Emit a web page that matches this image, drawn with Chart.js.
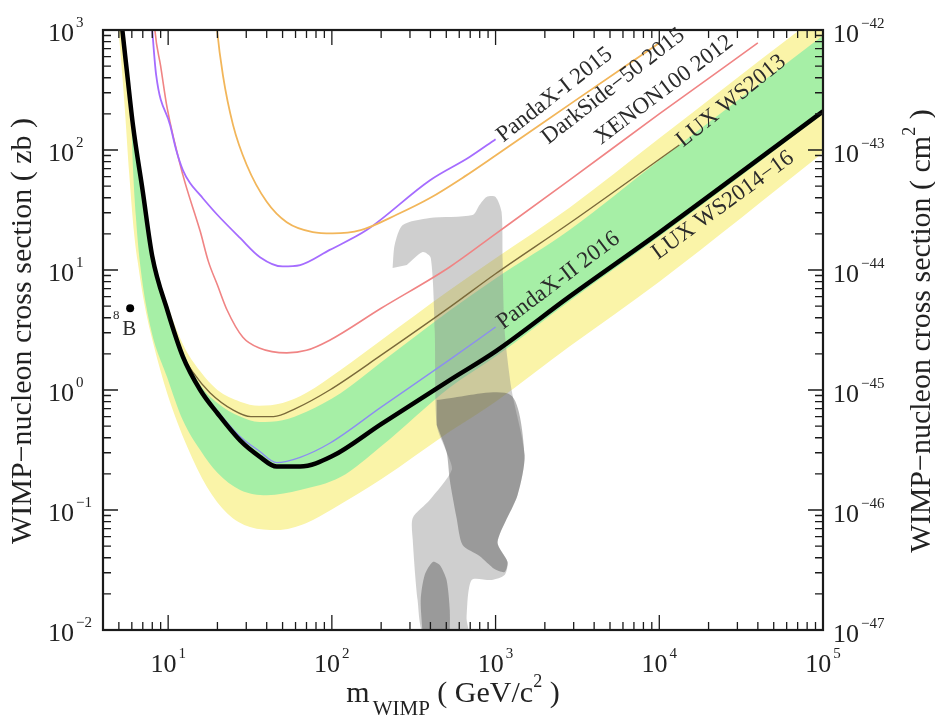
<!DOCTYPE html>
<html>
<head>
<meta charset="utf-8">
<title>WIMP-nucleon cross section limits</title>
<script src="https://cdn.jsdelivr.net/npm/chart.js@4.4.1/dist/chart.umd.min.js"></script>
<style>
  html, body { margin: 0; padding: 0; background: #fff; }
  #wrap { width: 935px; height: 724px; }
</style>
</head>
<body>
<div id="wrap"><canvas id="limitChart" width="935" height="724"></canvas></div>
<script>
// tick values (mass in GeV/c^2, cross section in zb and cm^2)
const massTicks = [10, 100, 1000, 10000, 100000];
const zbTicks   = [0.01, 0.1, 1, 10, 100, 1000];
const cm2Ticks  = [1e-47, 1e-46, 1e-45, 1e-44, 1e-43, 1e-42];

// [mass, sigma(zb)]
const luxWS2016 = [[5.15,1300],[5.25,1000],[5.6,450],[6.1,160],[7.0,45],[8.0,13],[9.9,4.6],[12.3,1.9],[15.7,1.0],[20,0.64],[27.5,0.38],[36,0.28],[46,0.23],[64,0.23],[100,0.28],[200,0.52],[525,1.21],[1000,2.1],[2826,6.0],[10000,20.5],[100000,210]];
const luxWS2013 = [[9.9,4.6],[12.3,1.95],[14.2,1.4],[18,0.95],[25,0.68],[32,0.6],[44,0.6],[60,0.7],[97,1.0],[200,1.95],[525,4.9],[1000,9.3],[2826,24.5],[13250,110]];
const pandaX2   = [[12.3,1.95],[15.7,1.03],[20,0.67],[27.5,0.41],[36,0.31],[46,0.248],[64,0.275],[97,0.36],[200,0.72],[525,1.79],[1000,3.35]];
const pandaX1   = [[7.9,1300],[8.0,1000],[8.45,420],[10.3,160],[11.2,100],[12.3,68],[13.6,53],[15.7,42],[19.9,29],[27.5,18.5],[36.4,12.8],[50,10.7],[64,11],[97,14.7],[163,21.5],[398,56],[690,87],[1000,123]];
const xenon100  = [[8.2,1300],[8.3,1000],[9.0,500],[9.86,224],[12.3,62],[15.7,21],[17.6,11.8],[20,7.5],[22.9,4.64],[28.6,2.75],[36,2.24],[53,2.04],[70,2.14],[97,2.6],[200,4.8],[525,10.6],[1000,20],[2826,56],[10000,200],[40000,780]];
const darkSide  = [[19.6,1300],[19.9,1000],[21.6,420],[24.9,162],[30.2,75],[40,37],[53,25],[76.5,20.7],[101,20.2],[150,21.5],[250,29],[400,40],[645,60],[1000,90],[3000,253],[10000,780]];

// sensitivity bands
const yellowUpper = [[4.85,3000],[5.4,1000],[6.2,160],[7.1,45],[8.2,13],[10,5.0],[12.3,2.4],[15.7,1.43],[20,1.0],[27.5,0.8],[36,0.74],[50,0.78],[70,0.95],[113,1.47],[200,2.6],[525,6.8],[1000,12.5],[2826,33],[10000,125],[68000,944],[100000,1400]];
const yellowLower = [[4.85,1300],[4.97,1000],[5.4,250],[5.8,60],[6.2,20],[6.5,12],[7.2,5],[8.1,2.46],[9.86,0.94],[13.1,0.335],[17.3,0.155],[22.9,0.094],[31.6,0.072],[46,0.068],[70,0.078],[101,0.102],[200,0.18],[525,0.45],[1000,0.8],[2826,2.3],[10000,8],[100000,95]];
const greenUpper  = [[5.15,3000],[5.3,1000],[6.15,160],[7.05,45],[8.1,13],[10,4.7],[12.3,2.1],[15.7,1.1],[20,0.78],[27.5,0.6],[36,0.54],[50,0.56],[70,0.66],[113,0.94],[200,1.7],[525,4.6],[1000,8.5],[2826,21.5],[10000,82],[100000,900]];
const greenLower  = [[5.15,1300],[5.25,1000],[5.6,450],[5.95,170],[6.1,70],[6.35,28],[6.7,12],[7.8,3.35],[9.86,1.28],[12.3,0.56],[15.7,0.316],[20,0.204],[27.5,0.147],[40,0.133],[64,0.147],[113,0.188],[200,0.34],[525,1.05],[1000,1.9],[2826,5.5],[10000,19],[100000,200]];

// model regions (outlines)
const lightRegion = [[235,10.4],[242,16.2],[271,23.7],[396,27.1],[724,28.7],[798,34.8],[881,40.6],[1000,40.6],[1088,30.4],[1104,12.1],[1135,3.16],[1253,1.0],[1503,0.287],[1361,0.133],[1028,0.0541],[1183,0.0369],[1135,0.0287],[946,0.0261],[714,0.0261],[665,0.0126],[675,0.009],[369,0.009],[334,0.0178],[312,0.0562],[312,0.0858],[396,0.121],[540,0.215],[502,0.304],[437,0.511],[425,3.16],[402,12.6],[359,14.1],[287,11.0]];
const darkRegion  = [[437,0.825],[1234,0.91],[1503,0.287],[1361,0.133],[1028,0.0541],[1183,0.0369],[1135,0.0304],[986,0.0322],[798,0.0414],[629,0.0511],[578,0.0858],[525,0.178],[502,0.304],[437,0.511]];
const darkBlob    = [[359,0.009],[349,0.0178],[369,0.0287],[413,0.0369],[456,0.0348],[502,0.0261],[525,0.0147],[525,0.009]];

const boronPoint = [[5.86,4.8]];

const curveLabels = [
  { text: 'PandaX-I 2015',    mass: 1057,  zb: 126,  angle: 38 },
  { text: 'DarkSide\u221250 2015', mass: 1991, zb: 121, angle: 38 },
  { text: 'XENON100 2012',    mass: 4188,  zb: 121,  angle: 37 },
  { text: 'LUX WS2013',       mass: 13250, zb: 114,  angle: 39 },
  { text: 'PandaX-II 2016',   mass: 1057,  zb: 3.48, angle: 37 },
  { text: 'LUX WS2014\u221216', mass: 9337, zb: 13.3, angle: 36 }
];

const SERIF = '"Liberation Serif", "DejaVu Serif", serif';
const pts = a => a.map(([x, y]) => ({ x, y }));

function curve(data, color, width, order){
  return { data: pts(data), showLine: true, borderColor: color, borderWidth: width,
           pointRadius: 0, fill: false, cubicInterpolationMode: 'monotone', order };
}
function edge(data, color, fill, order){
  return { data: pts(data), showLine: true, borderWidth: 0, borderColor: 'transparent',
           backgroundColor: color, pointRadius: 0, fill, cubicInterpolationMode: 'monotone', order };
}
function region(data, color, order){
  return { data: pts(data), showLine: true, borderWidth: 0, borderColor: 'transparent',
           backgroundColor: color, pointRadius: 0, fill: 'shape', tension: 0.25, order };
}

function expText(v){
  const e = Math.round(Math.log10(v));
  return e < 0 ? '\u2212' + (-e) : String(e);
}

function drawPower(ctx, v, x, y, align){
  ctx.font = '26px ' + SERIF;
  const wBase = ctx.measureText('10').width;
  const sup = expText(v);
  ctx.font = '15px ' + SERIF;
  const wSup = ctx.measureText(sup).width;
  const x0 = align === 'center' ? x - (wBase + 2 + wSup) / 2 : x;
  ctx.font = '26px ' + SERIF;
  ctx.fillText('10', x0, y);
  ctx.font = '15px ' + SERIF;
  ctx.fillText(sup, x0 + wBase + 2, y - 14);
}

function drawRun(ctx, parts, cx, cy){
  let total = 0;
  parts.forEach(p => { ctx.font = p.size + 'px ' + SERIF; p.w = ctx.measureText(p.t).width + (p.gap || 0); total += p.w; });
  let xx = cx - total / 2;
  parts.forEach(p => { ctx.font = p.size + 'px ' + SERIF; ctx.fillText(p.t, xx + (p.gap || 0), cy + (p.dy || 0)); xx += p.w; });
}

function logTicks(scale){
  const out = [];
  const lo = Math.floor(Math.log10(scale.min)), hi = Math.ceil(Math.log10(scale.max));
  for (let e = lo; e <= hi; e++) {
    for (let k = 1; k <= 9; k++) {
      const v = k * Math.pow(10, e);
      if (v >= scale.min * 0.999 && v <= scale.max * 1.001) out.push({ v, major: k === 1 });
    }
  }
  return out;
}

const framePlugin = {
  id: 'frame',
  afterDatasetsDraw(chart){
    const { ctx, chartArea: a } = chart;
    const { x, y, y2 } = chart.scales;
    ctx.save();

    // inward ticks on all four sides
    ctx.strokeStyle = '#1a1a1a';
    ctx.lineWidth = 1.3;
    ctx.beginPath();
    logTicks(x).forEach(t => {
      const px = x.getPixelForValue(t.v), len = t.major ? 15 : 8;
      ctx.moveTo(px, a.bottom); ctx.lineTo(px, a.bottom - len);
      ctx.moveTo(px, a.top);    ctx.lineTo(px, a.top + len);
    });
    logTicks(y).forEach(t => {
      const py = y.getPixelForValue(t.v), len = t.major ? 15 : 8;
      ctx.moveTo(a.left, py); ctx.lineTo(a.left + len, py);
    });
    logTicks(y2).forEach(t => {
      const py = y2.getPixelForValue(t.v), len = t.major ? 15 : 8;
      ctx.moveTo(a.right, py); ctx.lineTo(a.right - len, py);
    });
    ctx.stroke();
    ctx.lineWidth = 2.2;
    ctx.strokeRect(a.left, a.top, a.right - a.left, a.bottom - a.top);

    // tick labels
    ctx.fillStyle = '#222';
    ctx.textAlign = 'left';
    ctx.textBaseline = 'alphabetic';
    massTicks.forEach(v => drawPower(ctx, v, x.getPixelForValue(v), a.bottom + 42, 'center'));
    zbTicks.forEach(v => drawPower(ctx, v, a.left - 55, y.getPixelForValue(v) + 11, 'left'));
    cm2Ticks.forEach(v => drawPower(ctx, v, a.right + 10, y2.getPixelForValue(v) + 12, 'left'));

    // axis titles
    drawRun(ctx, [
      { t: 'm', size: 30 },
      { t: 'WIMP', size: 21, dy: 13, gap: 3 },
      { t: ' ( GeV/c', size: 30 },
      { t: '2', size: 18, dy: -15 },
      { t: ' )', size: 30 }
    ], 453, a.bottom + 72);

    ctx.save();
    ctx.translate(31, (a.top + a.bottom) / 2 + 1);
    ctx.rotate(-Math.PI / 2);
    drawRun(ctx, [{ t: 'WIMP\u2212nucleon cross section ( zb )', size: 30 }], 0, 0);
    ctx.restore();

    ctx.save();
    ctx.translate(930, (a.top + a.bottom) / 2 + 1);
    ctx.rotate(-Math.PI / 2);
    drawRun(ctx, [
      { t: 'WIMP\u2212nucleon cross section ( cm', size: 30 },
      { t: '2', size: 18, dy: -15 },
      { t: ' )', size: 30 }
    ], 0, 0);
    ctx.restore();

    // curve labels along the lines
    ctx.fillStyle = '#2b2b2b';
    ctx.textBaseline = 'middle';
    ctx.font = '23px ' + SERIF;
    curveLabels.forEach(l => {
      ctx.save();
      ctx.translate(x.getPixelForValue(l.mass), y.getPixelForValue(l.zb));
      ctx.rotate(-l.angle * Math.PI / 180);
      ctx.fillText(l.text, 0, 0);
      ctx.restore();
    });

    // 8B label next to its point
    const bx = x.getPixelForValue(boronPoint[0][0]);
    const by = y.getPixelForValue(boronPoint[0][1]);
    ctx.textAlign = 'center';
    ctx.textBaseline = 'alphabetic';
    ctx.font = '21px ' + SERIF;
    ctx.fillText('B', bx - 1, by + 27);
    ctx.font = '13px ' + SERIF;
    ctx.fillText('8', bx - 14, by + 11);

    ctx.restore();
  }
};

new Chart(document.getElementById('limitChart'), {
  type: 'scatter',
  data: {
    datasets: [
      edge(yellowUpper, '#faf4a8', '+1', 10),
      edge(yellowLower, '#faf4a8', false, 10),
      edge(greenUpper, '#a6efa6', '+1', 9),
      edge(greenLower, '#a6efa6', false, 9),
      region(lightRegion, 'rgba(140,140,140,0.42)', 8),
      region(darkRegion, 'rgba(80,80,80,0.42)', 7),
      region(darkBlob, 'rgba(80,80,80,0.42)', 7),
      curve(darkSide, '#f2b65a', 1.8, 3),
      curve(pandaX1, '#a56cff', 1.8, 3),
      curve(xenon100, '#f08484', 1.6, 3),
      curve(luxWS2013, '#7a6a3a', 1.4, 2),
      curve(pandaX2, '#8c8cf2', 1.3, 2),
      curve(luxWS2016, '#000000', 4.5, 1),
      { data: pts(boronPoint), pointRadius: 4, pointBackgroundColor: '#000', pointBorderWidth: 0, showLine: false, order: 0 }
    ]
  },
  options: {
    responsive: false,
    animation: false,
    devicePixelRatio: 1,
    layout: { padding: { left: 103, top: 30, right: 112, bottom: 94 } },
    plugins: { legend: { display: false }, tooltip: { enabled: false } },
    scales: {
      x:  { type: 'logarithmic', min: 4, max: 100000, display: false },
      y:  { type: 'logarithmic', min: 0.01, max: 1000, display: false },
      y2: { type: 'logarithmic', position: 'right', min: 1e-47, max: 1e-42, display: false }
    }
  },
  plugins: [framePlugin]
});
</script>
</body>
</html>
